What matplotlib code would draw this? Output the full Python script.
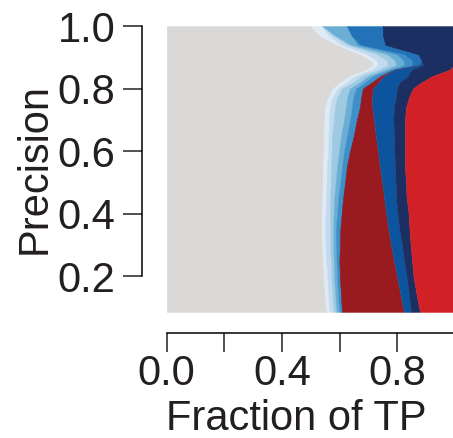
import matplotlib.pyplot as plt
import numpy as np

# Precision levels (y) and the fraction of TP per category at each level
precision = [1.0, 0.97, 0.94, 0.91, 0.89, 0.875, 0.86, 0.84, 0.82, 0.80, 0.77, 0.74, 0.70,
             0.65, 0.60, 0.55, 0.50, 0.45, 0.40, 0.35, 0.30, 0.25, 0.20, 0.15, 0.10, 0.085]

grey = [.500, .532, .591, .671, .712, .717, .692, .636, .602, .577, .560, .550, .548,
        .546, .544, .543, .541, .539, .538, .538, .539, .542, .544, .548, .553, .555]
blue1 = [.039, .031, .017, .023, .017, .016, .020, .017, .023, .017, .014, .017, .016,
         .016, .016, .014, .014, .014, .013, .012, .012, .011, .012, .012, .010, .010]
blue2 = [.000, .014, .021, .035, .035, .035, .023, .023, .023, .014, .017, .017, .017,
         .012, .012, .014, .014, .014, .016, .017, .016, .016, .014, .014, .014, .014]
blue3 = [.002, .007, .010, .035, .029, .028, .023, .023, .023, .028, .035, .038, .035,
         .031, .026, .021, .017, .014, .012, .011, .010, .010, .010, .010, .010, .010]
blue4 = [.085, .058, .024, .035, .029, .028, .017, .017, .017, .021, .021, .021, .021,
         .021, .017, .017, .016, .014, .012, .009, .010, .010, .010, .010, .010, .010]
blue5 = [.000, .000, .010, .025, .030, .028, .011, .023, .023, .024, .028, .028, .024,
         .024, .021, .017, .017, .017, .016, .016, .014, .010, .010, .010, .010, .009]
blue6 = [.125, .109, .087, .050, .034, .028, .006, .004, .002, 0, 0, 0, 0,
         0, 0, 0, 0, 0, 0, 0, 0, 0, 0, 0, 0, 0]
darkred = [0, 0, 0, 0, 0, 0, .002, .011, .023, .035, .038, .043, .059,
           .076, .097, .115, .128, .142, .154, .167, .177, .189, .198, .205, .212, .215]
blue7 = [0, 0, 0, 0, 0, .010, .056, .083, .073, .083, .083, .075, .068,
         .063, .057, .052, .047, .042, .040, .038, .038, .035, .033, .030, .026, .024]
navy = [.249, .249, .240, .126, .114, .110, .133, .086, .076, .056, .045, .042, .040,
        .038, .036, .035, .036, .036, .038, .035, .030, .028, .024, .026, .030, .031]
red = [0, 0, 0, 0, 0, 0, .018, .077, .115, .145, .159, .169, .173,
       .173, .173, .173, .169, .167, .160, .157, .153, .148, .143, .134, .124, .120]

layers = [grey, blue1, blue2, blue3, blue4, blue5, blue6, darkred, blue7, navy, red]
colors = ['#dad9d7', '#deebf7', '#c4daee', '#9ecae1', '#6aaed6', '#3f8fc8', '#2172b6',
          '#9a1b1f', '#0c549e', '#1c2f62', '#d12127']

plt.rcParams['font.family'] = ['Liberation Sans', 'DejaVu Sans']
fs = 30

y = np.array(precision)
vals = np.array(layers)
vals = vals / vals.sum(axis=0)   # each row is a fraction, so make it sum to 1
cum = np.vstack([np.zeros(len(y)), np.cumsum(vals, axis=0)])

fig = plt.figure(figsize=(4.53, 4.38), dpi=100)
ax = fig.add_axes([166.7 / 453, 1 - 312 / 438, 288 / 453, 286 / 438])

for i in range(len(layers)):
    ax.fill_betweenx(y, cum[i], cum[i + 1], color=colors[i], lw=0.3, edgecolor=colors[i])

ax.set_xlim(0, 1)
ax.set_ylim(0.085, 1.0)

# despined, offset axes
for s in ['top', 'right']:
    ax.spines[s].set_visible(False)
ax.spines['left'].set_position(('outward', 18))
ax.spines['bottom'].set_position(('outward', 15))
ax.spines['left'].set_bounds(0.2, 1.0)
ax.spines['bottom'].set_bounds(0, 1)
for s in ['left', 'bottom']:
    ax.spines[s].set_linewidth(1.1)

ax.set_xticks([0, 0.2, 0.4, 0.6, 0.8, 1.0])
ax.set_xticklabels(['0.0', '', '0.4', '', '0.8', ''])
ax.set_yticks([0.2, 0.4, 0.6, 0.8, 1.0])
ax.set_yticklabels(['0.2', '0.4', '0.6', '0.8', '1.0'])
ax.tick_params(axis='both', length=14, width=1.1, labelsize=fs, colors='#231f20')
ax.tick_params(axis='x', pad=1)
ax.tick_params(axis='y', pad=5)

ax.set_xlabel('Fraction of TP', fontsize=fs, color='#231f20')
ax.set_ylabel('Precision', fontsize=fs, color='#231f20')
ax.xaxis.set_label_coords(0.45, -0.305)
ax.yaxis.set_label_coords(-0.39, 0.5)

fig.savefig('out.png', dpi=100)
